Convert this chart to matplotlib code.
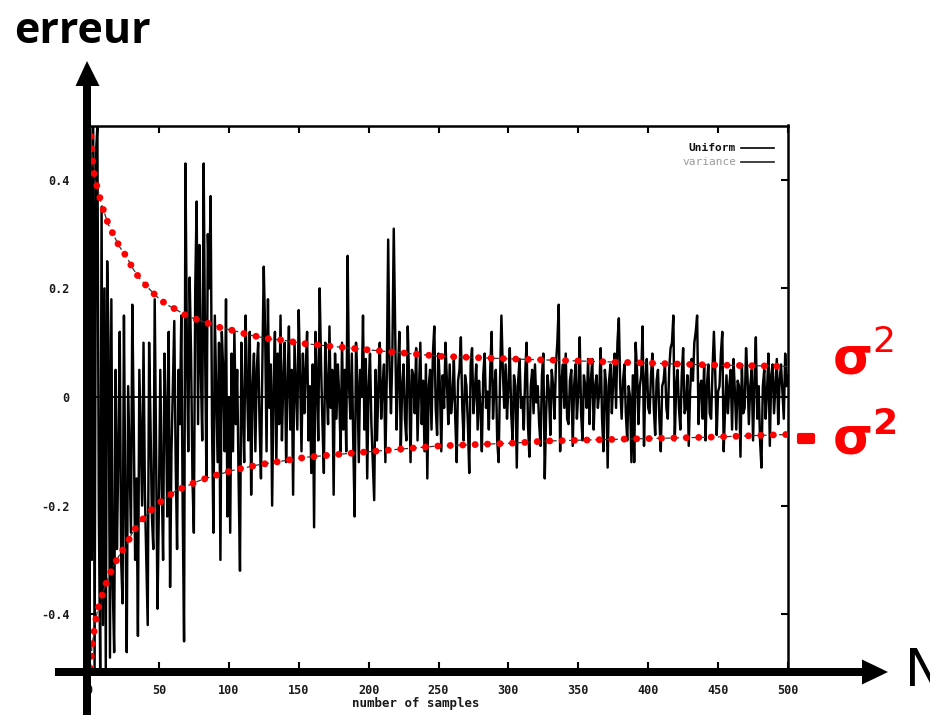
import numpy as np
import matplotlib
matplotlib.use("Agg")
import matplotlib.pyplot as plt
from matplotlib.patches import Polygon, Rectangle
import matplotlib.patheffects as pe

# ---------------- data ----------------
samples = np.arange(1, 501)
error = [
    0.50, -0.30, 0.50, -0.50, 0.45, 0.50, -0.20, -0.50, 0.35, -0.42, 0.20, -0.50, 0.25, 0.10, -0.48, 0.18, -0.35, -0.47, 0.05, -0.28,
    -0.10, 0.12, -0.30, -0.38, 0.15, -0.20, -0.47, 0.02, -0.12, -0.25, 0.17, -0.05, -0.30, -0.15, -0.44, 0.05, -0.08, -0.20, 0.10, -0.18,
    -0.30, -0.42, 0.10, -0.05, -0.22, -0.28, 0.18, -0.10, -0.39, -0.20, 0.05, -0.15, -0.30, 0.08, -0.02, -0.22, 0.12, -0.35, -0.10, 0.02,
    0.14, -0.12, -0.28, 0.05, -0.05, 0.15, -0.20, -0.45, 0.43, 0.10, -0.10, 0.22, 0.08, -0.15, -0.25, 0.20, 0.36, -0.05, 0.28, 0.05,
    -0.08, 0.43, 0.10, -0.15, 0.30, 0.20, 0.37, -0.05, -0.25, 0.15, 0.02, -0.12, 0.10, -0.30, 0.12, 0.05, -0.10, 0.18, -0.22, 0.00,
    -0.25, 0.08, -0.10, 0.12, -0.05, 0.05, -0.15, -0.32, 0.10, -0.02, -0.12, 0.15, 0.03, -0.08, 0.12, -0.18, 0.02, 0.08, -0.10, 0.05,
    0.10, -0.05, -0.15, 0.06, 0.24, 0.12, -0.10, 0.18, -0.02, 0.06, -0.20, 0.02, 0.12, -0.12, 0.08, -0.05, 0.15, -0.08, 0.03, 0.10,
    -0.12, 0.02, 0.13, -0.06, 0.05, -0.18, 0.10, 0.02, -0.06, 0.16, 0.04, -0.10, 0.08, -0.03, 0.05, 0.12, -0.08, 0.02, -0.14, 0.06,
    -0.24, 0.12, 0.03, -0.08, 0.20, 0.06, -0.05, -0.14, 0.10, 0.02, -0.05, 0.13, -0.02, 0.05, -0.18, 0.08, -0.04, 0.06, 0.00, -0.10,
    0.10, -0.06, 0.05, -0.10, 0.26, 0.02, -0.04, 0.08, -0.08, -0.22, 0.10, 0.03, -0.12, 0.05, 0.00, 0.15, -0.06, 0.07, -0.15, 0.02,
    0.08, -0.05, -0.12, -0.19, 0.05, -0.08, 0.02, 0.10, -0.04, 0.02, 0.06, -0.12, 0.04, 0.29, 0.05, -0.03, 0.08, 0.31, 0.12, -0.06,
    0.04, 0.12, -0.10, 0.02, 0.06, -0.04, -0.08, 0.13, 0.03, -0.12, 0.05, 0.04, -0.03, 0.09, -0.08, 0.01, 0.10, -0.05, 0.03, -0.10,
    0.06, -0.15, 0.02, 0.05, -0.06, 0.08, 0.13, -0.02, -0.07, 0.08, 0.02, -0.10, 0.04, -0.02, 0.10, 0.03, -0.05, 0.06, -0.03, 0.00,
    0.07, -0.04, -0.12, 0.03, 0.05, 0.11, -0.02, -0.08, 0.04, 0.02, -0.05, -0.14, 0.06, 0.09, -0.03, 0.01, 0.06, -0.06, 0.03, -0.02,
    -0.10, 0.04, 0.08, -0.02, 0.01, -0.06, 0.05, 0.12, -0.04, 0.02, 0.05, -0.08, -0.12, 0.03, 0.15, 0.05, -0.02, 0.06, -0.04, 0.02,
    0.09, -0.03, -0.08, 0.04, 0.02, -0.13, 0.03, 0.07, -0.02, 0.00, -0.06, 0.04, 0.10, -0.05, -0.11, 0.02, 0.05, -0.03, 0.06, -0.01,
    0.02, -0.05, -0.09, 0.04, 0.08, -0.15, -0.03, 0.04, 0.01, -0.07, 0.05, 0.02, -0.04, 0.06, 0.10, 0.17, -0.10, 0.03, 0.06, -0.02,
    0.08, -0.04, -0.05, 0.03, 0.05, -0.09, 0.02, 0.06, -0.04, 0.01, 0.11, -0.03, -0.08, 0.04, 0.02, -0.02, 0.07, -0.05, 0.03, 0.07,
    -0.06, 0.02, 0.04, -0.02, 0.01, 0.09, -0.04, -0.10, 0.05, 0.02, -0.13, 0.03, 0.06, -0.03, 0.03, 0.08, -0.02, 0.10, 0.145, 0.02,
    -0.04, 0.03, 0.06, -0.03, -0.08, 0.02, 0.00, -0.12, 0.04, -0.12, 0.10, 0.05, -0.05, 0.02, 0.04, 0.13, -0.09, 0.03, 0.07, -0.02,
    -0.03, 0.04, 0.08, -0.02, -0.07, 0.03, 0.05, -0.04, -0.10, 0.02, 0.03, 0.06, -0.02, -0.04, 0.05, 0.09, 0.10, 0.15, -0.08, 0.02,
    0.05, -0.02, -0.06, 0.04, 0.09, -0.03, -0.02, 0.04, -0.09, 0.01, 0.07, 0.03, 0.10, 0.12, 0.15, -0.05, 0.02, 0.03, -0.04, 0.06,
    -0.08, 0.02, 0.06, -0.03, -0.04, 0.05, 0.12, 0.04, -0.07, 0.01, 0.02, 0.08, 0.12, -0.10, -0.02, 0.04, -0.03, 0.02, 0.05, -0.06,
    0.07, 0.01, -0.06, 0.03, 0.02, -0.11, 0.06, -0.03, -0.02, 0.09, 0.04, -0.05, 0.02, 0.05, -0.08, 0.03, 0.11, -0.04, 0.02, -0.08,
    -0.13, 0.02, 0.05, -0.04, 0.01, 0.08, -0.09, 0.04, 0.06, -0.03, 0.02, 0.07, -0.05, 0.03, 0.06, 0.01, -0.04, 0.08, 0.02, 0.04,
]

sigma_up_n = [1.5, 2, 3, 4, 6.5, 8.5, 11, 14, 18, 22, 27, 31, 36, 42, 48, 55,
              63, 70, 78, 87, 95, 104, 112, 121, 129, 138, 147, 155, 199, 251,
              303, 330, 392, 444, 488, 500]
sigma_up = [0.48, 0.449, 0.425, 0.403, 0.381, 0.359, 0.339, 0.317, 0.296,
            0.276, 0.258, 0.238, 0.219, 0.202, 0.186, 0.171, 0.160, 0.149,
            0.142, 0.134, 0.127, 0.122, 0.116, 0.111, 0.107, 0.105, 0.101,
            0.098, 0.087, 0.075, 0.070, 0.068, 0.063, 0.059, 0.057, 0.056]

sigma_lo_n = [1, 2, 4.5, 6, 8.5, 11, 14, 18, 22, 27, 31, 36, 42, 48, 55, 62,
              70, 78, 87, 103, 121, 155, 199, 251, 303, 328, 392, 444, 488, 500]
sigma_lo = [-0.50, -0.462, -0.416, -0.394, -0.372, -0.352, -0.331, -0.309,
            -0.290, -0.271, -0.250, -0.232, -0.215, -0.199, -0.186, -0.173,
            -0.164, -0.155, -0.147, -0.135, -0.125, -0.111, -0.101, -0.090,
            -0.085, -0.081, -0.077, -0.074, -0.070, -0.069]

x_ticks = [0, 50, 100, 150, 200, 250, 300, 350, 400, 450, 500]
x_labels = ["0", "50", "100", "150", "200", "250", "300", "350", "400", "450", "500"]
y_ticks = [-0.4, -0.2, 0, 0.2, 0.4]
y_labels = ["-0.4", "-0.2", "0", "0.2", "0.4"]

# ---------------- figure ----------------
W, H = 930, 715
fig = plt.figure(figsize=(W / 100, H / 100), dpi=100)
ax = fig.add_axes([89 / W, 1 - 668.5 / H, 699 / W, 543 / H])
ax.set_xlim(0, 500)
ax.set_ylim(-0.5, 0.5)

ax.plot(samples, error, color="black", lw=1.75, zorder=2)
ax.axhline(0, color="black", lw=1.3, zorder=2)

# original (black dashed) variance curves
ax.plot(sigma_up_n, sigma_up, color="#333333", lw=0.9, ls=(0, (4, 3)), zorder=3)
ax.plot(sigma_lo_n, sigma_lo, color="#333333", lw=0.9, ls=(0, (4, 3)), zorder=3)

# red dotted sigma^2 curves
dot = dict(color="red", lw=5.0, ls=(0, (0.01, 1.78)), dash_capstyle="round", zorder=4)
ax.plot(sigma_up_n, sigma_up, **dot)
ax.plot(sigma_lo_n, sigma_lo, **dot)

ax.set_xticks(x_ticks)
ax.set_xticklabels(x_labels)
ax.set_yticks(y_ticks)
ax.set_yticklabels(y_labels)
ax.tick_params(axis="both", direction="in", top=True, right=True, length=5,
               width=1.5, colors="black")
ax.tick_params(axis="x", pad=11)
ax.tick_params(axis="y", pad=14)
for lab in ax.get_xticklabels() + ax.get_yticklabels():
    lab.set_fontfamily("DejaVu Sans Mono")
    lab.set_fontweight("bold")
    lab.set_fontsize(8.5)
    lab.set_color("#1a1a1a")

for s in ["top", "right"]:
    ax.spines[s].set_linewidth(1.8)
for s in ["left", "bottom"]:
    ax.spines[s].set_visible(False)

# ---------------- overlay (pixel coordinates) ----------------
ov = fig.add_axes([0, 0, 1, 1], zorder=5)
ov.set_xlim(0, W)
ov.set_ylim(H, 0)
ov.axis("off")
ov.patch.set_alpha(0)

# vertical arrow
ov.add_patch(Rectangle((83, 84), 8, H - 84, color="black", lw=0))
ov.add_patch(Polygon([(75.5, 86), (99.5, 86), (87, 61)], closed=True, color="black", lw=0))
# horizontal arrow
ov.add_patch(Rectangle((55, 668), 810, 8, color="black", lw=0))
ov.add_patch(Polygon([(862, 659.5), (862, 684.5), (888, 672)], closed=True, color="black", lw=0))

ov.text(416, 697, "number of samples", ha="center", va="top",
        fontfamily="DejaVu Sans Mono", fontweight="bold", fontsize=9, color="#1a1a1a")

ov.text(905, 686, "N", ha="left", va="baseline", fontfamily="DejaVu Sans",
        fontsize=37, color="black")
ov.text(14, 43, "erreur", ha="left", va="baseline", fontfamily="Open Sans",
        fontweight="bold", fontsize=31, color="black")

# legend from the scanned plot
ov.text(736, 151, "Uniform", ha="right", va="baseline", fontfamily="DejaVu Sans Mono",
        fontweight="bold", fontsize=8, color="#111111")
ov.plot([741, 774], [148, 148], color="black", lw=1.2)
ov.text(736, 165, "variance", ha="right", va="baseline", fontfamily="DejaVu Sans Mono",
        fontsize=8, color="#9a9a9a")
ov.plot([741, 774], [162, 162], color="#222222", lw=1.2)

# sigma labels
ov.text(833, 373, "σ", ha="left", va="baseline", fontfamily="DejaVu Sans",
        fontweight="bold", fontsize=37, color="red")
ov.text(872, 352, "2", ha="left", va="baseline", fontfamily="DejaVu Sans",
        fontsize=26, color="red")
ov.text(796, 452, "-", ha="left", va="baseline", fontfamily="DejaVu Sans",
        fontweight="bold", fontsize=34, color="red",
        path_effects=[pe.withStroke(linewidth=3, foreground="red")])
ov.text(833, 453, "σ", ha="left", va="baseline", fontfamily="DejaVu Sans",
        fontweight="bold", fontsize=37, color="red")
ov.text(872, 434, "2", ha="left", va="baseline", fontfamily="DejaVu Sans",
        fontweight="bold", fontsize=26, color="red")

fig.savefig("out.png", dpi=100)
